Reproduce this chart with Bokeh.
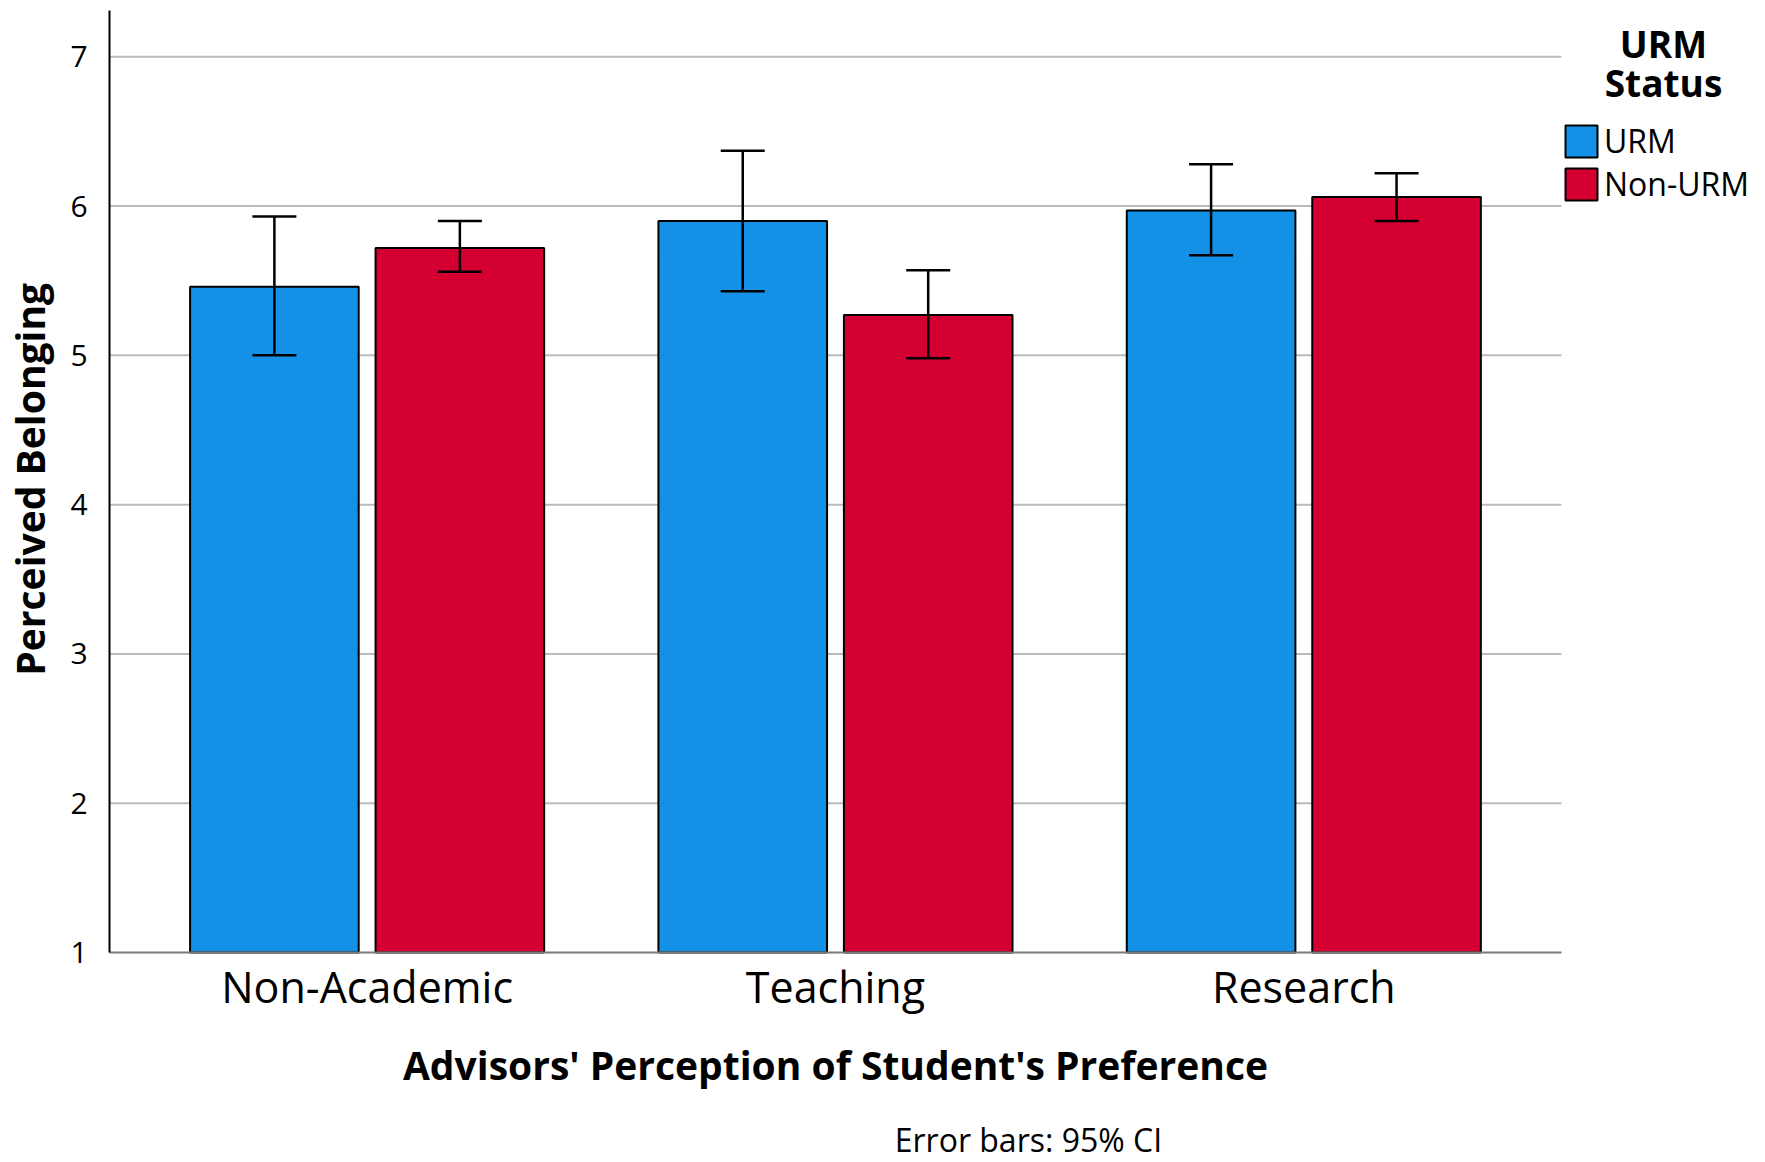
import math
from bokeh.plotting import figure
from bokeh.models import (ColumnDataSource, Whisker, TeeHead, FixedTicker, Range1d,
                          Legend, LegendItem, Label)
from bokeh.embed import file_html
from bokeh.resources import INLINE

# ---- data ----
categories = ["Non-Academic", "Teaching", "Research"]
groups = ["URM", "Non-URM"]
urm_mean = [5.46, 5.90, 5.97]
urm_lower = [5.00, 5.43, 5.67]
urm_upper = [5.93, 6.37, 6.28]
nonurm_mean = [5.72, 5.27, 6.06]
nonurm_lower = [5.56, 4.98, 5.90]
nonurm_upper = [5.90, 5.57, 6.22]
y_ticks = [1, 2, 3, 4, 5, 6, 7]
grid_values = [2, 3, 4, 5, 6, 7]

colors = {"URM": "#1391e6", "Non-URM": "#d50032"}
FONT = "Open Sans"

X0, X1 = 0.45, 3.55   # extent of the categorical chart area
Y0, YTOP = 1, 7.31    # extent of the value axis

p = figure(width=1752, height=1160, output_backend="svg", toolbar_location=None,
           x_range=Range1d(0.2172, 3.958), y_range=Range1d(-0.393, 7.377),
           min_border_left=0, min_border_right=0, min_border_top=0,
           min_border_bottom=0)
p.outline_line_color = None
p.background_fill_color = "white"
p.xgrid.grid_line_color = None
p.ygrid.grid_line_color = None

# horizontal gridlines restricted to the chart area
p.segment(x0=[X0] * len(grid_values), x1=[X1] * len(grid_values),
          y0=grid_values, y1=grid_values, line_color="#bbbbbb", line_width=2)

centers = list(range(1, len(categories) + 1))
offset = 0.198
bar_w = 0.36

series = [
    ("URM", urm_mean, urm_lower, urm_upper, -offset),
    ("Non-URM", nonurm_mean, nonurm_lower, nonurm_upper, offset),
]
renderers = {}
for name, mean, lo, hi, off in series:
    src = ColumnDataSource(dict(x=[c + off for c in centers], top=mean, lower=lo, upper=hi))
    r = p.vbar(x="x", top="top", bottom=Y0, width=bar_w, source=src,
               fill_color=colors[name], line_color="black", line_width=2)
    renderers[name] = r
    w = Whisker(base="x", upper="upper", lower="lower", source=src, level="overlay",
                line_color="black", line_width=2.5,
                upper_head=TeeHead(size=44, line_color="black", line_width=2.5),
                lower_head=TeeHead(size=44, line_color="black", line_width=2.5))
    p.add_layout(w)

# x axis fixed at y = 1
p.xaxis.fixed_location = Y0
p.xaxis.bounds = (X0, X1)
p.xaxis.ticker = FixedTicker(ticks=centers)
p.xaxis.major_label_overrides = {c: n for c, n in zip(centers, categories)}
p.xaxis.major_label_text_font = FONT
p.xaxis.major_label_text_font_size = "43px"
p.xaxis.major_label_text_color = "black"
p.xaxis.major_label_standoff = -2
p.xaxis.major_tick_line_color = None
p.xaxis.minor_tick_line_color = None
p.xaxis.axis_line_color = "#7a7a7a"
p.xaxis.axis_line_width = 2

# y axis fixed at the left edge of the chart area
p.yaxis.fixed_location = X0
p.yaxis.bounds = (Y0, YTOP)
p.yaxis.ticker = FixedTicker(ticks=y_ticks)
p.yaxis.major_label_text_font = FONT
p.yaxis.major_label_text_font_size = "30px"
p.yaxis.major_label_text_color = "black"
p.yaxis.major_label_standoff = 16
p.yaxis.major_tick_line_color = None
p.yaxis.minor_tick_line_color = None
p.yaxis.axis_line_color = "black"
p.yaxis.axis_line_width = 2

# axis titles and footnote
p.add_layout(Label(x=0.279, y=4.17, text="Perceived Belonging", angle=math.pi / 2,
                   text_align="center", text_baseline="alphabetic", text_font=FONT,
                   text_font_style="bold", text_font_size="39px", text_color="black"))
p.add_layout(Label(x=2, y=0.248, text="Advisors' Perception of Student's Preference",
                   text_align="center", text_baseline="alphabetic", text_font=FONT,
                   text_font_style="bold", text_font_size="39px", text_color="black"))
p.add_layout(Label(x=2.412, y=-0.25, text="Error bars: 95% CI", text_align="center",
                   text_baseline="alphabetic", text_font=FONT,
                   text_font_size="32px", text_color="black"))

# legend
legend = Legend(items=[LegendItem(label=g, renderers=[renderers[g]]) for g in groups],
                location=(1561, 955), orientation="vertical",
                glyph_width=40, glyph_height=40, spacing=0, label_standoff=3,
                padding=0, margin=0, border_line_color=None, background_fill_alpha=0,
                label_text_font=FONT, label_text_font_size="32px",
                label_text_color="black", label_height=40)
p.add_layout(legend, "center")

for txt, yv in [("URM", 7.09), ("Status", 6.826)]:
    p.add_layout(Label(x=3.768, y=yv, text=txt, text_align="center",
                       text_baseline="alphabetic", text_font=FONT,
                       text_font_style="bold", text_font_size="37px",
                       text_color="black"))

open("out.html", "w").write(file_html(p, INLINE))
